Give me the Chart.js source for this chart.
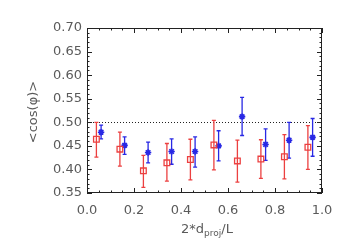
<!DOCTYPE html>
<html>
<head>
<meta charset="utf-8">
<script src="https://cdn.jsdelivr.net/npm/chart.js@4.4.0/dist/chart.umd.min.js"></script>
<style>
  html, body { margin: 0; padding: 0; background: #fff; }
  #wrap { width: 349px; height: 249px; }
</style>
</head>
<body>
<div id="wrap"><canvas id="cosChart"></canvas></div>
<script>
// waarden
var redX  = [0.04, 0.14, 0.24, 0.34, 0.44, 0.54, 0.64, 0.74, 0.84, 0.94];
var redY  = [0.464, 0.443, 0.397, 0.414, 0.421, 0.452, 0.418, 0.422, 0.427, 0.447];
var redLo = [0.426, 0.407, 0.362, 0.375, 0.378, 0.399, 0.373, 0.381, 0.380, 0.400];
var redHi = [0.500, 0.479, 0.430, 0.455, 0.464, 0.504, 0.462, 0.463, 0.474, 0.493];

var blueX  = [0.06, 0.16, 0.26, 0.36, 0.46, 0.56, 0.66, 0.76, 0.86, 0.96];
var blueY  = [0.479, 0.451, 0.436, 0.438, 0.438, 0.450, 0.512, 0.453, 0.462, 0.468];
var blueLo = [0.465, 0.432, 0.414, 0.411, 0.405, 0.418, 0.472, 0.419, 0.424, 0.428];
var blueHi = [0.494, 0.469, 0.458, 0.465, 0.469, 0.482, 0.553, 0.486, 0.500, 0.508];

var refLine = 0.50;
var xTicks = [0.0, 0.2, 0.4, 0.6, 0.8, 1.0];
var yTicks = [0.35, 0.40, 0.45, 0.50, 0.55, 0.60, 0.65, 0.70];

var RED = 'rgb(236,64,64)';
var BLUE = 'rgb(40,40,228)';
var TEXT = '#5a5a5a';
var FONT = '"DejaVu Sans", sans-serif';

function toPoints(xs, ys, lo, hi) {
  var pts = [];
  xs.forEach(function(x, i) {
    pts.push({x: x, y: ys[i], lo: lo[i], hi: hi[i]});
  });
  return pts;
}

/**
* Foutbalken, stippellijn, kader met naar binnen gerichte tickjes en de astitels.
**/
var framePlugin = {
  id: 'frame',
  beforeDatasetsDraw(chart) {
    var ctx = chart.ctx, a = chart.chartArea;
    var xs = chart.scales.x, ys = chart.scales.y;
    ctx.save();
    // stippellijn op 0.50
    ctx.strokeStyle = '#222';
    ctx.lineWidth = 1;
    ctx.setLineDash([1, 2]);
    var yl = Math.round(ys.getPixelForValue(refLine)) + 0.5;
    ctx.beginPath(); ctx.moveTo(a.left, yl); ctx.lineTo(a.right, yl); ctx.stroke();
    ctx.setLineDash([]);

    // foutbalken
    chart.data.datasets.forEach(function(ds) {
      ctx.strokeStyle = ds.borderColor;
      ctx.lineWidth = 1.3;
      ds.data.forEach(function(p) {
        var px = xs.getPixelForValue(p.x);
        var y1 = ys.getPixelForValue(p.lo), y2 = ys.getPixelForValue(p.hi);
        ctx.beginPath();
        ctx.moveTo(px, y1); ctx.lineTo(px, y2);
        ctx.moveTo(px - 2, y1); ctx.lineTo(px + 2, y1);
        ctx.moveTo(px - 2, y2); ctx.lineTo(px + 2, y2);
        ctx.stroke();
      });
    });
    ctx.restore();
  },
  afterDraw(chart) {
    var ctx = chart.ctx, a = chart.chartArea;
    var xs = chart.scales.x, ys = chart.scales.y;
    ctx.save();
    ctx.strokeStyle = '#222';
    ctx.lineWidth = 1;
    ctx.strokeRect(a.left + 0.5, a.top + 0.5, a.right - a.left - 1, a.bottom - a.top - 1);
    ctx.beginPath();
    // x tickjes (hoofd 0.2, klein 0.05)
    for (var i = 0; i <= 20; i++) {
      var v = i * 0.05;
      var len = (i % 4 === 0) ? 5 : 2.5;
      var px = Math.round(xs.getPixelForValue(v)) + 0.5;
      ctx.moveTo(px, a.bottom); ctx.lineTo(px, a.bottom - len);
      ctx.moveTo(px, a.top); ctx.lineTo(px, a.top + len);
    }
    // y tickjes (hoofd 0.05, klein 0.01)
    for (var j = 35; j <= 70; j++) {
      var lenY = (j % 5 === 0) ? 5 : 2.5;
      var py = Math.round(ys.getPixelForValue(j / 100)) + 0.5;
      ctx.moveTo(a.left, py); ctx.lineTo(a.left + lenY, py);
      ctx.moveTo(a.right, py); ctx.lineTo(a.right - lenY, py);
    }
    ctx.stroke();

    // x titel met subscript
    ctx.fillStyle = TEXT;
    ctx.textBaseline = 'alphabetic';
    ctx.textAlign = 'left';
    var big = '13px ' + FONT, small = '9px ' + FONT;
    ctx.font = big;
    var w1 = ctx.measureText('2*d').width, w3 = ctx.measureText('/L').width;
    ctx.font = small;
    var w2 = ctx.measureText('proj').width;
    var x0 = 207 - (w1 + w2 + w3) / 2, base = 233;
    ctx.font = big; ctx.fillText('2*d', x0, base);
    ctx.font = small; ctx.fillText('proj', x0 + w1, base + 3);
    ctx.font = big; ctx.fillText('/L', x0 + w1 + w2, base);

    // y titel
    ctx.translate(34, 112);
    ctx.rotate(-Math.PI / 2);
    ctx.textAlign = 'center';
    ctx.textBaseline = 'middle';
    ctx.font = '13px ' + FONT;
    ctx.fillText('<cos(\u03c6)>', 0, 0);
    ctx.restore();
  }
};

new Chart(document.getElementById('cosChart'), {
  type: 'scatter',
  data: {
    datasets: [{
      label: 'rood',
      data: toPoints(redX, redY, redLo, redHi),
      borderColor: RED,
      backgroundColor: 'rgba(0,0,0,0)',
      pointStyle: 'rect',
      pointRadius: 4,
      pointBorderWidth: 1.3
    }, {
      label: 'blauw',
      data: toPoints(blueX, blueY, blueLo, blueHi),
      borderColor: BLUE,
      backgroundColor: BLUE,
      pointStyle: 'star',
      pointRadius: 3.2,
      pointBorderWidth: 1.6
    }]
  },
  options: {
    responsive: true,
    maintainAspectRatio: false,
    animation: false,
    layout: { padding: { left: 0, right: 27, top: 28, bottom: 0 } },
    plugins: { legend: { display: false }, tooltip: { enabled: false } },
    scales: {
      x: {
        type: 'linear', min: 0, max: 1,
        afterFit(s) { s.height = 56; },
        afterBuildTicks(s) { s.ticks = xTicks.map(function(v) { return {value: v}; }); },
        grid: { display: false, drawTicks: false },
        border: { display: false },
        ticks: {
          padding: 10, color: TEXT, maxRotation: 0,
          font: { family: FONT, size: 13 },
          callback: function(v) { return v.toFixed(1); }
        }
      },
      y: {
        type: 'linear', min: 0.35, max: 0.70,
        afterFit(s) { s.width = 87; },
        afterBuildTicks(s) { s.ticks = yTicks.map(function(v) { return {value: v}; }); },
        grid: { display: false, drawTicks: false },
        border: { display: false },
        ticks: {
          padding: 5, color: TEXT,
          font: { family: FONT, size: 13 },
          callback: function(v) { return v.toFixed(2); }
        }
      }
    }
  },
  plugins: [framePlugin]
});
</script>
</body>
</html>
